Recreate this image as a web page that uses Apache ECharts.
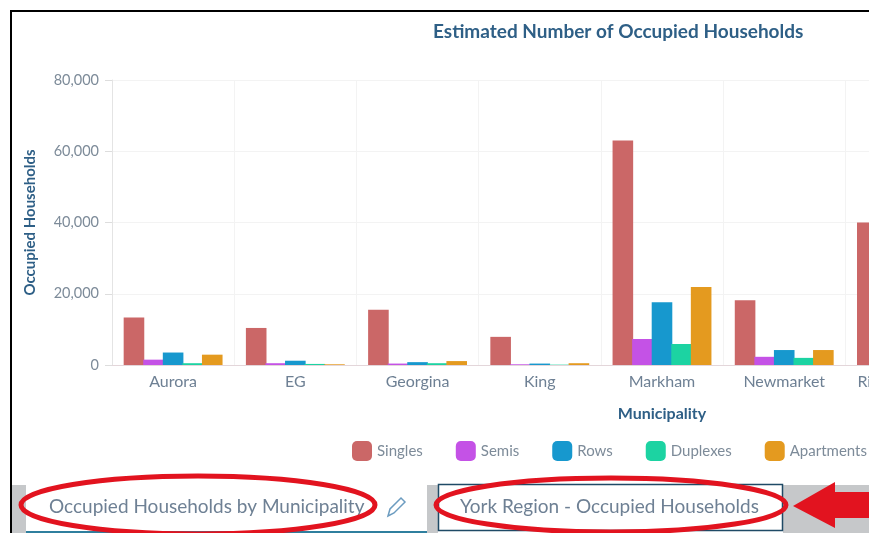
<!DOCTYPE html>
<html>
<head>
<meta charset="utf-8">
<title>Estimated Number of Occupied Households</title>
<style>
html, body { margin: 0; padding: 0; background: #fff; }
#chart { width: 869px; height: 533px; }
</style>
<script src="https://cdn.jsdelivr.net/npm/echarts@6/dist/echarts.min.js"></script>
</head>
<body>
<div id="chart"></div>
<script>
// only what can be read in the picture: the chart runs on past the right edge,
// so Richmond Hill has just its Singles bar
var municipalities = ['Aurora', 'EG', 'Georgina', 'King', 'Markham', 'Newmarket', 'Richmond Hill'];
var singles    = [13300, 10400, 15500, 7900, 63000, 18200, 40000];
var semis      = [1500, 500, 400, 200, 7300, 2300, null];
var rows       = [3500, 1200, 800, 400, 17600, 4200, null];
var duplexes   = [500, 300, 500, 100, 5900, 2000, null];
var apartments = [2900, 200, 1100, 500, 21900, 4200, null];

var seriesNames = ['Singles', 'Semis', 'Rows', 'Duplexes', 'Apartments'];
var seriesValues = [singles, semis, rows, duplexes, apartments];
var seriesColors = ['#CB6767', '#C452E6', '#1798CE', '#1CD3A2', '#E49A1F'];

var tabLeft = 'Occupied Households by Municipality';
var tabRight = 'York Region - Occupied Households';

var font = 'Lato';
var red = '#E2131F';

var chart = echarts.init(document.getElementById('chart'));

chart.setOption({
    animation: false,
    backgroundColor: '#fff',
    color: seriesColors,
    title: {
        text: 'Estimated Number of Occupied Households',
        left: 433,
        top: 22,
        padding: 0,
        textStyle: { fontFamily: font, fontSize: 19, fontWeight: 'bold', color: '#2E5F86' }
    },
    legend: {
        left: 352,
        top: 441,
        padding: 0,
        width: 600,
        itemWidth: 20,
        itemHeight: 20,
        itemGap: 33,
        icon: 'roundRect',
        data: seriesNames,
        textStyle: { fontFamily: font, fontSize: 15, color: '#7D8B99' }
    },
    // the plot is wider than the window, so it must not be fitted into it
    grid: { left: 112, top: 80, width: 1100, height: 285, outerBoundsMode: 'none' },
    xAxis: {
        type: 'category',
        data: municipalities,
        max: 8,
        name: 'Municipality',
        nameLocation: 'middle',
        nameGap: 41,
        nameTextStyle: { fontFamily: font, fontSize: 16, fontWeight: 'bold', color: '#2E5F86' },
        axisLine: { lineStyle: { color: '#E3D6DA' } },
        axisTick: { alignWithLabel: true, length: 5, lineStyle: { color: '#D8D8D8' } },
        axisLabel: { interval: 0, margin: 9, fontFamily: font, fontSize: 16, color: '#6E8094' },
        splitLine: { show: true, lineStyle: { color: '#F3F3F3' } }
    },
    yAxis: {
        type: 'value',
        min: 0,
        max: 80000,
        interval: 20000,
        name: 'Occupied Households',
        nameLocation: 'middle',
        nameGap: 74,
        nameTextStyle: { fontFamily: font, fontSize: 15, fontWeight: 'bold', color: '#2E5F86' },
        axisLine: { show: true, lineStyle: { color: '#E4E4E4' } },
        axisTick: { show: true, length: 7, lineStyle: { color: '#DDDDDD' } },
        axisLabel: {
            margin: 13,
            fontFamily: font,
            fontSize: 14.5,
            color: '#7D8B99',
            formatter: function(v) { return v.toLocaleString('en-US'); }
        },
        splitLine: { lineStyle: { color: '#F3F3F3' } }
    },
    series: seriesNames.map(function(name, i) {
        return {
            name: name,
            type: 'bar',
            barWidth: 20.6,
            barGap: '-5%',
            data: seriesValues[i]
        };
    }),
    graphic: [
        // frame of the screenshot
        { type: 'rect', z: 50, shape: { x: 10, y: 10, width: 859, height: 2 }, style: { fill: '#000' } },
        { type: 'rect', z: 50, shape: { x: 10, y: 10, width: 2, height: 523 }, style: { fill: '#000' } },
        // tab strip
        { type: 'rect', z: 50, shape: { x: 12, y: 485, width: 14, height: 48 }, style: { fill: '#C6C8CA' } },
        { type: 'rect', z: 50, shape: { x: 427, y: 485, width: 11, height: 48 }, style: { fill: '#C6C8CA' } },
        { type: 'rect', z: 50, shape: { x: 783, y: 485, width: 86, height: 48 }, style: { fill: '#C6C8CA' } },
        { type: 'rect', z: 50, shape: { x: 26, y: 531, width: 401, height: 2 }, style: { fill: '#2F7F9E' } },
        { type: 'rect', z: 50, shape: { x: 438.5, y: 484.5, width: 344, height: 46 }, style: { fill: '#fff', stroke: '#1F4A66', lineWidth: 1.5 } },
        { type: 'text', z: 51, style: { x: 49, y: 507, text: tabLeft, fontFamily: font, fontSize: 19, fill: '#6E8094', verticalAlign: 'middle' } },
        { type: 'text', z: 51, style: { x: 460, y: 507, text: tabRight, fontFamily: font, fontSize: 19, fill: '#6E8094', verticalAlign: 'middle' } },
        // pencil icon
        { type: 'polygon', z: 51, shape: { points: [[388, 516], [390, 509], [401, 498], [405, 502], [394, 513]] }, style: { fill: 'none', stroke: '#6C9CC0', lineWidth: 1.5 } },
        // red annotations
        { type: 'ellipse', z: 52, shape: { cx: 198, cy: 505, rx: 177, ry: 29 }, style: { fill: 'none', stroke: red, lineWidth: 5 } },
        { type: 'ellipse', z: 52, shape: { cx: 611, cy: 505, rx: 175, ry: 27 }, style: { fill: 'none', stroke: red, lineWidth: 5 } },
        { type: 'polygon', z: 52, shape: { points: [[793, 506], [835, 482], [835, 492], [869, 492], [869, 518], [835, 518], [835, 528]] }, style: { fill: red } }
    ]
});
</script>
</body>
</html>
